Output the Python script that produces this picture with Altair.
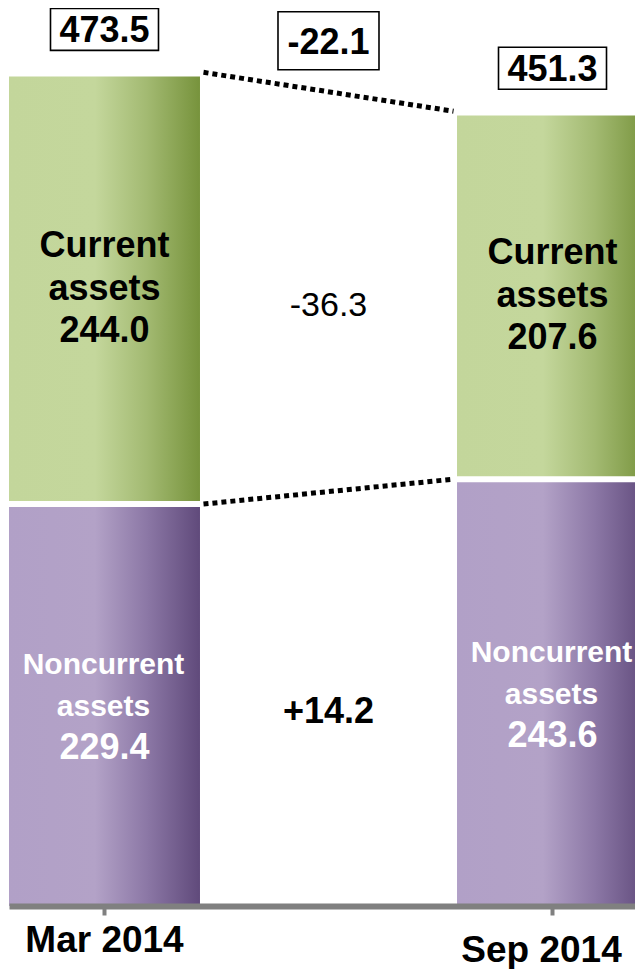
import altair as alt
import pandas as pd

# ---- data ----
periods = ["Mar 2014", "Sep 2014"]
current = [244.0, 207.6]
noncurrent = [229.4, 243.6]
totals = [473.5, 451.3]
total_change = "-22.1"
current_change = "-36.3"
noncurrent_change = "+14.2"

FONT = "Liberation Sans"

# ---- tables built from the arrays ----
seg = pd.DataFrame({
    "period": periods * 2,
    "segment": ["Noncurrent"] * 2 + ["Current"] * 2,
    "start": [0.0, 0.0] + noncurrent,
    "end": noncurrent + [n + c for n, c in zip(noncurrent, current)],
    "value": noncurrent + current,
})
seg["mid"] = (seg["start"] + seg["end"]) / 2
seg["num"] = seg["value"].map(lambda v: f"{v:.1f}")
seg["label"] = seg.apply(
    lambda r: ("Current\nassets\n" + r["num"]) if r["segment"] == "Current" else "Noncurrent\nassets",
    axis=1,
)

tot = pd.DataFrame({"period": periods, "total": totals,
                    "label": [f"{t:.1f}" for t in totals]})

chg = pd.DataFrame({"period": [periods[0]], "y": [sum(totals) / 2], "label": [total_change]})

cur_mid = seg[seg.segment == "Current"]["mid"].mean()
non_mid = seg[seg.segment == "Noncurrent"]["mid"].mean()
mid_chg = pd.DataFrame({
    "period": [periods[0], periods[0]],
    "y": [cur_mid, non_mid],
    "label": [current_change, noncurrent_change],
    "kind": ["cur", "non"],
})

lines = pd.DataFrame({
    "p1": [periods[0], periods[0]],
    "p2": [periods[1], periods[1]],
    "y1": [totals[0], noncurrent[0]],
    "y2": [totals[1], noncurrent[1]],
    "kind": ["top", "mid"],
})

# ---- scales / encodings ----
xscale = alt.Scale(domain=periods, range=[1, 640], paddingInner=0.5737, paddingOuter=0)
yscale = alt.Scale(domain=[0, 512.5], nice=False, zero=True)

xaxis = alt.Axis(
    title=None, zindex=1,
    domainColor="#808080", domainWidth=6,
    tickColor="#808080", tickWidth=4, tickSize=9,
    labelFont=FONT, labelFontSize=37, labelFontWeight="bold", labelColor="#000000",
    labelAngle=0, labelBaseline="top",
    labelPadding={"condition": {"test": "datum.value === 'Sep 2014'", "value": 17}, "value": 7},
    labelOffset={"condition": {"test": "datum.value === 'Sep 2014'", "value": -11}, "value": 0},
)

X = alt.X("period:N", scale=xscale, axis=xaxis)

green = alt.LinearGradient(
    gradient="linear", x1=0, x2=1, y1=0, y2=0,
    stops=[alt.GradientStop(color="#C3D69B", offset=0),
           alt.GradientStop(color="#C4D79C", offset=0.45),
           alt.GradientStop(color="#A3BA72", offset=0.72),
           alt.GradientStop(color="#77933C", offset=1)],
)
purple = alt.LinearGradient(
    gradient="linear", x1=0, x2=1, y1=0, y2=0,
    stops=[alt.GradientStop(color="#B1A0C7", offset=0),
           alt.GradientStop(color="#B3A2C7", offset=0.45),
           alt.GradientStop(color="#8C78A6", offset=0.72),
           alt.GradientStop(color="#604A7B", offset=1)],
)

base_seg = alt.Chart(seg)

bars_non = base_seg.transform_filter("datum.segment === 'Noncurrent'").mark_bar(
    color=purple, y2Offset=3
).encode(x=X, y=alt.Y("start:Q", scale=yscale, axis=None), y2="end:Q")

bars_cur = base_seg.transform_filter("datum.segment === 'Current'").mark_bar(
    color=green, yOffset=-3
).encode(x=X, y=alt.Y("start:Q", scale=yscale, axis=None), y2="end:Q")

cur_text = base_seg.transform_filter("datum.segment === 'Current'").mark_text(
    font=FONT, fontSize=36, fontWeight="bold", color="#000000", lineBreak="\n",
    lineHeight=42.5, baseline="alphabetic", align="center", dy=-33
).encode(x=X, y=alt.Y("mid:Q", scale=yscale, axis=None), text="label:N")

non_words = base_seg.transform_filter("datum.segment === 'Noncurrent'").mark_text(
    font=FONT, fontSize=30, fontWeight="bold", color="#FFFFFF", lineBreak="\n",
    lineHeight=42, baseline="alphabetic", align="center", dx=-1, dy=-31
).encode(x=X, y=alt.Y("mid:Q", scale=yscale, axis=None), text="label:N")

non_num = base_seg.transform_filter("datum.segment === 'Noncurrent'").mark_text(
    font=FONT, fontSize=36, fontWeight="bold", color="#FFFFFF",
    baseline="alphabetic", align="center", dy=54
).encode(x=X, y=alt.Y("mid:Q", scale=yscale, axis=None), text="num:N")

tot_box = alt.Chart(tot).mark_point(
    shape="M-1,-0.389H1V0.389H-1Z", size=11664, filled=False, stroke="#000000",
    strokeWidth=1.6, opacity=1, yOffset=-47
).encode(x=X, y=alt.Y("total:Q", scale=yscale, axis=None))

tot_text = alt.Chart(tot).mark_text(
    font=FONT, fontSize=36, fontWeight="bold", color="#000000",
    baseline="alphabetic", align="center", dy=-34
).encode(x=X, y=alt.Y("total:Q", scale=yscale, axis=None), text="label:N")

chg_box = alt.Chart(chg).mark_point(
    shape="M-1,-0.574H1V0.574H-1Z", size=10201, filled=False, stroke="#000000",
    strokeWidth=1.6, opacity=1, xOffset=224, yOffset=-55
).encode(x=X, y=alt.Y("y:Q", scale=yscale, axis=None))

chg_text = alt.Chart(chg).mark_text(
    font=FONT, fontSize=36, fontWeight="bold", color="#000000",
    baseline="alphabetic", align="center", dx=224, dy=-42
).encode(x=X, y=alt.Y("y:Q", scale=yscale, axis=None), text="label:N")

cur_chg_text = alt.Chart(mid_chg).transform_filter("datum.kind === 'cur'").mark_text(
    font=FONT, fontSize=34, fontWeight="normal", color="#000000",
    baseline="alphabetic", align="center", dx=224, dy=22
).encode(x=X, y=alt.Y("y:Q", scale=yscale, axis=None), text="label:N")

non_chg_text = alt.Chart(mid_chg).transform_filter("datum.kind === 'non'").mark_text(
    font=FONT, fontSize=36, fontWeight="bold", color="#000000",
    baseline="alphabetic", align="center", dx=224, dy=24
).encode(x=X, y=alt.Y("y:Q", scale=yscale, axis=None), text="label:N")

top_line = alt.Chart(lines).transform_filter("datum.kind === 'top'").mark_rule(
    color="#000000", strokeWidth=5, strokeDash=[5, 4],
    xOffset=99, x2Offset=-99, yOffset=-4, y2Offset=-4
).encode(x=alt.X("p1:N", scale=xscale, axis=xaxis), x2="p2:N",
         y=alt.Y("y1:Q", scale=yscale, axis=None), y2="y2:Q")

mid_line = alt.Chart(lines).transform_filter("datum.kind === 'mid'").mark_rule(
    color="#000000", strokeWidth=5, strokeDash=[5, 4],
    xOffset=99, x2Offset=-99
).encode(x=alt.X("p1:N", scale=xscale, axis=xaxis), x2="p2:N",
         y=alt.Y("y1:Q", scale=yscale, axis=None), y2="y2:Q")

chart = alt.layer(
    bars_non, bars_cur, top_line, mid_line,
    cur_text, non_words, non_num,
    tot_box, tot_text, chg_box, chg_text, cur_chg_text, non_chg_text,
).properties(
    width=627, height=898,
    autosize=alt.AutoSizeParams(type="none"),
    padding={"left": 0, "top": 0, "right": 0, "bottom": 63},
    background="#FFFFFF",
).configure_view(stroke=None)

chart.save("out.html", embed_options={"renderer": "svg", "actions": False})
